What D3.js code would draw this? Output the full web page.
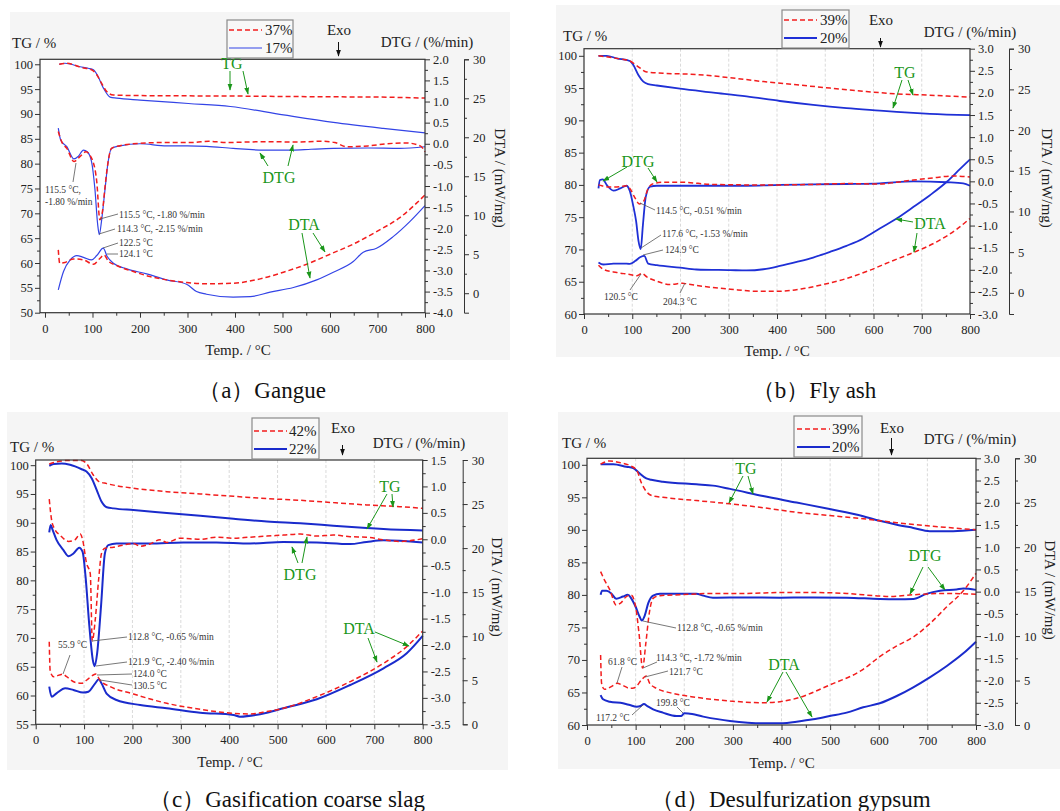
<!DOCTYPE html>
<html>
<head>
<meta charset="utf-8">
<script src="https://cdn.jsdelivr.net/npm/d3@7"></script>
<style>
  body { margin: 0; background: #ffffff; }
  svg { display: block; }
</style>
</head>
<body>
<svg id="fig" width="1060" height="811"></svg>
<script>
// ---------- Data: [temperature °C, value] ----------
// (a) Gangue
const gangueTG37 = [[30,100],[45,100.2],[60,99.9],[74,99.4],[98,98.9],[109,97.9],[119,96.2],[130,94.5],[144,93.8],[200,93.7],[400,93.6],[600,93.45],[700,93.4],[800,93.2]];
const gangueTG17 = [[30,100],[42,100.2],[74,99.5],[91,99.2],[102,98.9],[112,97.5],[123,95.2],[137,93.4],[151,93.2],[200,92.8],[302,92.1],[390,91.5],[502,89.8],[607,88.3],[712,87.1],[800,86.2]];
const gangueDTG37 = [[28,0.29],[35,0.05],[46,-0.11],[61,-0.42],[74,-0.3],[86,-0.19],[98,-0.34],[109,-0.9],[115.5,-1.80],[121,-1.6],[126,-1.06],[133,-0.42],[140,-0.11],[158,-0.045],[200,0.01],[250,0.03],[312,0.03],[345,0.06],[380,0.03],[420,0.04],[470,0.05],[530,0.04],[580,0.06],[610,0.03],[635,-0.07],[680,-0.05],[720,0.0],[760,0.02],[790,-0.05],[800,-0.19]];
const gangueDTG17 = [[28,0.37],[33,0.09],[46,-0.07],[61,-0.36],[70,-0.3],[81,-0.15],[89,-0.19],[98,-0.42],[105,-1.06],[111,-1.92],[114.3,-2.15],[119,-1.83],[126,-1.12],[133,-0.42],[140,-0.11],[158,-0.05],[200,0.0],[256,-0.05],[300,-0.05],[340,-0.06],[396,-0.11],[460,-0.15],[520,-0.15],[560,-0.13],[607,-0.11],[680,-0.1],[747,-0.11],[800,-0.07]];
const gangueDTA37 = [[28,5.56],[31,3.85],[42,3.95],[60,4.4],[81,4.27],[102,3.72],[116,4.49],[124.1,4.91],[133,4.15],[151,3.55],[186,2.78],[221,2.14],[256,1.71],[298,1.37],[340,1.2],[396,1.28],[453,1.84],[502,2.69],[551,3.72],[600,5.0],[649,6.3],[698,7.9],[747,9.7],[800,12.6]];
const gangueDTA17 = [[28,0.43],[39,2.78],[53,4.27],[67,4.83],[81,4.6],[98,4.27],[109,4.83],[122.5,5.77],[131,4.7],[144,3.85],[172,3.12],[214,2.48],[256,1.71],[298,1.15],[319,0.21],[340,-0.13],[396,-0.51],[432,-0.45],[474,0.13],[523,0.73],[572,1.71],[607,2.69],[649,4.06],[670,5.26],[698,5.77],[733,7.26],[768,9.19],[800,11.24]];

// (b) Fly ash
const flyashTG39 = [[30,100],[68,99.6],[95,99.2],[109,98.5],[130,97.5],[164,97.3],[233,97.1],[303,96.6],[372,96.0],[441,95.5],[510,95.0],[579,94.5],[648,94.1],[717,93.9],[800,93.6]];
const flyashTG20 = [[30,100],[47,100],[68,99.6],[95,99.2],[102,98.6],[113,97.0],[123,96.0],[133,95.6],[151,95.4],[199,94.9],[268,94.3],[337,93.7],[406,93.0],[475,92.4],[544,91.9],[613,91.5],[648,91.3],[717,91.0],[800,90.8]];
const flyashDTG39 = [[30,-0.08],[37,-0.1],[54,-0.13],[75,-0.12],[88,-0.1],[95,-0.16],[106,-0.38],[114.5,-0.51],[123,-0.46],[133,-0.16],[144,-0.05],[165,-0.02],[199,-0.02],[268,-0.07],[337,-0.08],[406,-0.08],[475,-0.07],[544,-0.05],[613,-0.06],[648,-0.02],[683,0.03],[717,0.07],[765,0.12],[800,0.1]];
const flyashDTG20 = [[30,-0.16],[33,0.03],[39,0.045],[47,-0.08],[61,-0.21],[75,-0.16],[88,-0.1],[95,-0.22],[102,-0.55],[108,-0.9],[113,-1.35],[117.6,-1.53],[122,-1.0],[128,-0.35],[137,-0.12],[151,-0.1],[199,-0.1],[268,-0.1],[337,-0.1],[406,-0.08],[475,-0.07],[544,-0.06],[613,-0.045],[683,0.0],[752,-0.02],[786,-0.045],[800,-0.1]];
const flyashDTA39 = [[30,3.4],[40,2.9],[68,2.5],[95,2.25],[109,2.09],[120.5,2.38],[130,1.97],[151,1.43],[178,1.02],[204.3,1.18],[213,1.1],[254,0.74],[303,0.45],[358,0.2],[406,0.2],[455,0.53],[496,1.02],[544,1.76],[593,2.79],[634,3.81],[683,4.96],[731,6.27],[772,7.79],[800,9.14]];
const flyashDTA20 = [[30,3.73],[40,3.48],[61,3.6],[81,3.6],[95,3.56],[106,3.9],[117,4.4],[124.9,4.55],[133,3.6],[151,3.4],[199,3.1],[233,2.87],[303,2.79],[337,2.75],[372,2.9],[406,3.3],[441,3.8],[475,4.34],[510,5.04],[544,5.78],[579,6.68],[613,7.9],[648,9.14],[683,10.57],[717,12.0],[752,13.65],[779,15.2],[800,16.4]];

// (c) Gasification coarse slag
const slagTG42 = [[28,100.2],[44,100.6],[64,100.8],[95,100.8],[105,100.3],[119,98.3],[130,97.2],[147,96.8],[202,96.0],[271,95.4],[340,95.0],[409,94.6],[478,94.2],[547,93.9],[615,93.5],[684,93.1],[753,92.8],[800,92.5]];
const slagTG22 = [[28,99.9],[37,100.2],[54,100.3],[71,100.06],[95,99.3],[105,98.9],[116,97.7],[126,95.7],[136,93.7],[147,92.7],[161,92.5],[202,92.2],[271,91.7],[340,91.2],[409,90.7],[478,90.2],[547,89.9],[615,89.5],[684,89.1],[719,88.9],[800,88.65]];
const slagDTG42 = [[28,0.76],[33,0.36],[40,0.18],[50,0.08],[68,-0.04],[81,-0.01],[92,0.1],[97,-0.01],[105,-0.45],[112.8,-0.65],[117,-1.92],[123,-1.53],[130,-0.77],[136,-0.27],[143,-0.17],[161,-0.15],[181,-0.11],[202,-0.08],[216,-0.13],[236,-0.09],[257,-0.01],[271,-0.06],[298,0.02],[340,0.0],[374,0.04],[409,0.02],[443,0.04],[478,0.06],[512,0.08],[547,0.1],[581,0.06],[615,0.08],[650,0.05],[684,0.04],[719,-0.01],[753,-0.04],[800,0.01]];
const slagDTG22 = [[28,0.13],[31,0.27],[35,0.18],[43,-0.01],[57,-0.2],[68,-0.32],[78,-0.27],[90,-0.16],[97,-0.24],[103,-0.7],[111,-1.65],[118,-2.28],[121.9,-2.40],[127,-2.16],[135,-1.27],[143,-0.27],[150,-0.11],[167,-0.08],[236,-0.08],[305,-0.06],[374,-0.06],[443,-0.08],[512,-0.05],[581,-0.06],[650,-0.09],[684,-0.05],[719,-0.02],[800,-0.06]];
const slagDTA42 = [[28,9.38],[30,6.0],[37,5.4],[55.9,5.7],[64,5.4],[81,4.77],[95,4.65],[105,5.0],[119,5.6],[124.0,5.7],[133,5.0],[154,4.28],[202,3.44],[271,2.38],[340,1.7],[409,1.25],[443,1.17],[478,1.44],[512,1.82],[581,3.14],[650,4.84],[719,6.92],[767,8.82],[800,10.6]];
const slagDTA22 = [[28,4.28],[33,3.14],[43,3.52],[61,4.09],[78,3.9],[98,3.6],[109,3.7],[123,4.65],[130.5,5.1],[136,4.65],[147,3.44],[167,2.76],[216,2.19],[271,1.82],[340,1.32],[409,1.06],[422,0.87],[478,1.32],[512,1.82],[581,2.84],[650,4.46],[719,6.36],[767,8.06],[800,10.03]];

// (d) Desulfurization gypsum
const gypsumTG39 = [[28,100.1],[47,100.6],[67,100.35],[88,99.9],[102,99.2],[112,97.2],[122,95.9],[136,95.2],[156,95.0],[225,94.5],[294,94.0],[362,93.4],[431,92.7],[499,92.2],[568,91.7],[637,91.1],[705,90.6],[753,90.3],[800,90.0]];
const gypsumTG20 = [[28,100.1],[54,100.1],[81,99.7],[95,99.5],[108,98.7],[122,97.9],[132,97.7],[156,97.4],[225,97.0],[259,96.8],[294,96.3],[362,95.2],[431,94.2],[499,93.2],[568,92.1],[602,91.4],[637,90.8],[671,90.3],[705,89.8],[753,89.8],[800,90.0]];
const gypsumDTG39 = [[28,0.45],[36,0.26],[47,0.04],[60,-0.3],[69,-0.26],[81,-0.11],[91,-0.08],[100,-0.34],[107,-0.94],[114.3,-1.72],[121,-1.16],[128,-0.49],[136,-0.15],[150,-0.09],[191,-0.07],[259,-0.04],[328,-0.04],[397,-0.02],[465,-0.02],[534,-0.04],[602,-0.1],[623,-0.11],[671,-0.07],[740,-0.04],[800,-0.06]];
const gypsumDTG20 = [[28,-0.07],[31,0.02],[40,0.02],[50,-0.04],[60,-0.16],[74,-0.11],[84,-0.07],[91,-0.15],[100,-0.34],[108,-0.56],[112.8,-0.65],[119,-0.53],[126,-0.26],[136,-0.09],[150,-0.05],[225,-0.05],[239,-0.09],[259,-0.135],[328,-0.13],[397,-0.135],[465,-0.13],[534,-0.135],[602,-0.165],[637,-0.17],[671,-0.165],[698,-0.05],[726,0.02],[760,0.05],[774,0.07],[800,0.04]];
const gypsumDTA39 = [[28,7.87],[30,4.69],[36,4.01],[50,4.31],[61.8,4.69],[74,4.45],[88,4.12],[98,4.2],[112,5.06],[121.7,5.51],[129,4.69],[143,4.12],[170,3.64],[225,3.11],[294,2.7],[362,2.51],[397,2.62],[431,3.0],[499,4.5],[568,6.26],[602,7.69],[637,8.89],[671,9.9],[705,11.4],[740,13.3],[774,15.1],[800,17.06]];
const gypsumDTA20 = [[28,3.37],[33,2.89],[47,2.62],[74,2.44],[88,2.25],[102,2.06],[110,2.13],[117.2,2.36],[124,2.13],[136,1.76],[156,1.39],[184,1.01],[194,1.01],[199.8,1.31],[208,1.3],[239,0.94],[294,0.45],[362,0.19],[403,0.19],[431,0.37],[465,0.64],[499,1.01],[534,1.39],[568,1.99],[602,2.44],[637,3.26],[671,4.24],[705,5.36],[740,6.64],[774,8.06],[800,9.37]];

// Axis ticks
const tempTicks = [0,100,200,300,400,500,600,700,800];
const dtaTicks = [0,5,10,15,20,25,30];
const tgTicksA = [50,55,60,65,70,75,80,85,90,95,100];
const tgTicksB = [60,65,70,75,80,85,90,95,100];
const tgTicksC = [55,60,65,70,75,80,85,90,95,100];
const tgTicksD = [60,65,70,75,80,85,90,95,100];
const dtgTicksA = [-4,-3.5,-3,-2.5,-2,-1.5,-1,-0.5,0,0.5,1,1.5,2];
const dtgTicksB = [-3,-2.5,-2,-1.5,-1,-0.5,0,0.5,1,1.5,2,2.5,3];
const dtgTicksC = [-3.5,-3,-2.5,-2,-1.5,-1,-0.5,0,0.5,1,1.5];
const dtgTicksD = [-3,-2.5,-2,-1.5,-1,-0.5,0,0.5,1,1.5,2,2.5,3];

// Legend labels (red dashed, blue solid) and captions
const legendA = ["37%","17%"], legendB = ["39%","20%"], legendC = ["42%","22%"], legendD = ["39%","20%"];
const captions = ["（a）Gangue","（b）Fly ash","（c）Gasification coarse slag","（d）Desulfurization gypsum"];

// ---------- Styles ----------
const RED = "#f21d1d", GREEN = "#1a961a", INK = "#222";
const SERIF = "'Liberation Serif', 'Times New Roman', 'DejaVu Serif', serif";

// ---------- Panel layouts ----------
const panels = [
  { bg:[10,12,500,348], frame:{l:40,r:425,t:59.3,b:312.7}, xDom:[-10.5,800], tgDom:[50,101], dtgDom:[-4,2], dtaDom:[-2.5,30],
    dtaX:464, grid:false, blueW:1.2, blue:"#3344e6",
    tg:[gangueTG37,gangueTG17], dtg:[gangueDTG37,gangueDTG17], dta:[gangueDTA37,gangueDTA17],
    tgTicks:tgTicksA, dtgTicks:dtgTicksA, legend:legendA, caption:captions[0],
    legendBox:[227,20,66,38], legY:[30,48], legX:[229,262,265],
    exo:[339,30,42,56], tgTitle:[12,43], dtgTitle:[427,42], dtaTitle:[500,178], xTitle:[238,350], cap:[262,390],
    notes:[
      {t:"115.5 °C,", x:45, y:190}, {t:"-1.80 %/min", x:45, y:202, l:[73,182,76,163]},
      {t:"115.5 °C, -1.80 %/min", x:119, y:215, l:[100,219,118,214]},
      {t:"114.3 °C, -2.15 %/min", x:117, y:229, l:[99,234,115,229]},
      {t:"122.5 °C", x:119, y:243, l:[103,248,118,243]},
      {t:"124.1 °C", x:119, y:254, l:[107,254,118,254]}
    ],
    green:[
      {t:"TG", x:232, y:63, a:[[230,71,230,90],[243,71,248,94]]},
      {t:"DTG", x:279, y:177, a:[[268,166,260,153],[288,166,293,145]]},
      {t:"DTA", x:304, y:224, a:[[302,233,310,278],[313,233,325,252]]}
    ]},
  { bg:[556,5,504,352], frame:{l:584,r:970,t:48.7,b:314}, xDom:[0,800], tgDom:[60,101.1], dtgDom:[-3,3], dtaDom:[-2.6,30],
    dtaX:1009, grid:true, blueW:1.8, blue:"#1f30d6",
    tg:[flyashTG39,flyashTG20], dtg:[flyashDTG39,flyashDTG20], dta:[flyashDTA39,flyashDTA20],
    tgTicks:tgTicksB, dtgTicks:dtgTicksB, legend:legendB, caption:captions[1],
    legendBox:[782,10,67,38], legY:[20,38], legX:[784,817,820],
    exo:[881,20,38,47], tgTitle:[563,36], dtgTitle:[970,32], dtaTitle:[1047,178], xTitle:[777,351], cap:[814,390],
    notes:[
      {t:"114.5 °C, -0.51 %/min", x:656, y:211, l:[640,203,655,210]},
      {t:"117.6 °C, -1.53 %/min", x:662, y:234, l:[641,248,661,235]},
      {t:"124.9 °C", x:665, y:250, l:[643,255,663,250]},
      {t:"120.5 °C", x:604, y:297, l:[630,290,641,274]},
      {t:"204.3 °C", x:663, y:302, l:[680,293,685,283]}
    ],
    green:[
      {t:"TG", x:905, y:72, a:[[902,80,893,108],[908,80,913,95]]},
      {t:"DTG", x:638, y:161, a:[[627,167,603,181],[648,168,657,182]]},
      {t:"DTA", x:930, y:223, a:[[913,222,896,219],[917,233,914,252]]}
    ]},
  { bg:[7,412,501,358], frame:{l:35.7,r:422.7,t:460,b:724.3}, xDom:[0,800], tgDom:[55,100.9], dtgDom:[-3.5,1.5], dtaDom:[0,30],
    dtaX:462.7, grid:true, blueW:2, blue:"#1a2bcc",
    tg:[slagTG42,slagTG22], dtg:[slagDTG42,slagDTG22], dta:[slagDTA42,slagDTA22],
    tgTicks:tgTicksC, dtgTicks:dtgTicksC, legend:legendC, caption:captions[2],
    legendBox:[252,418,67,41], legY:[431,449], legX:[254,287,289],
    exo:[343,428,445,455], tgTitle:[10,447], dtgTitle:[419,443], dtaTitle:[497,587], xTitle:[230,762], cap:[287,799],
    notes:[
      {t:"55.9 °C", x:58, y:645, l:[70,655,63,674]},
      {t:"112.8 °C, -0.65 %/min", x:128, y:637, l:[92,641,127,637]},
      {t:"121.9 °C, -2.40 %/min", x:128, y:662, l:[96,666,127,662]},
      {t:"124.0 °C", x:133, y:674, l:[97,675,132,674]},
      {t:"130.5 °C", x:133, y:686, l:[100,680,132,685]}
    ],
    green:[
      {t:"TG", x:390, y:486, a:[[387,494,367,529],[392,494,393,507]]},
      {t:"DTG", x:300, y:574, a:[[298,563,292,547],[302,563,307,537]]},
      {t:"DTA", x:359, y:628, a:[[368,638,377,662],[375,632,409,646]]}
    ]},
  { bg:[558,412,502,357], frame:{l:587,r:976,t:458.3,b:725}, xDom:[0,800], tgDom:[60,101], dtgDom:[-3,3], dtaDom:[0,30],
    dtaX:1015, grid:true, blueW:2, blue:"#1a2bcc",
    tg:[gypsumTG39,gypsumTG20], dtg:[gypsumDTG39,gypsumDTG20], dta:[gypsumDTA39,gypsumDTA20],
    tgTicks:tgTicksD, dtgTicks:dtgTicksD, legend:legendD, caption:captions[3],
    legendBox:[794,416,68,41], legY:[429,447], legX:[797,830,832],
    exo:[892,428,438,455], tgTitle:[562,443], dtgTitle:[970,439], dtaTitle:[1050,590], xTitle:[782,763], cap:[791,799],
    notes:[
      {t:"112.8 °C, -0.65 %/min", x:677, y:628, l:[643,621,676,628]},
      {t:"114.3 °C, -1.72 %/min", x:656, y:658, l:[643,668,657,662]},
      {t:"121.7 °C", x:669, y:672, l:[645,677,668,671]},
      {t:"61.8 °C", x:608, y:662, l:[622,667,617,683]},
      {t:"199.8 °C", x:656, y:703, l:[677,707,683,713]},
      {t:"117.2 °C", x:596, y:718, l:[632,715,643,705]}
    ],
    green:[
      {t:"TG", x:746, y:468, a:[[743,476,729,503],[748,476,753,494]]},
      {t:"DTG", x:925, y:555, a:[[923,567,910,594],[928,567,945,590]]},
      {t:"DTA", x:784, y:664, a:[[783,672,767,702],[786,672,812,717]]}
    ]}
];

const svg = d3.select("#fig").attr("font-family", SERIF);
const defs = svg.append("defs");
function marker(id, color, size) {
  defs.append("marker").attr("id", id).attr("viewBox", "0 0 10 10")
    .attr("refX", 9).attr("refY", 5).attr("markerWidth", size).attr("markerHeight", size)
    .attr("markerUnits", "userSpaceOnUse").attr("orient", "auto")
    .append("path").attr("d", "M0,1.5 L10,5 L0,8.5 Z").attr("fill", color);
}
marker("garrow", GREEN, 7);
marker("karrow", "#111", 7);

const fmt1 = d => d.toFixed(1);
const range = (a, b, s) => d3.range(a, b + s / 2, s);

function styleAxis(g, size) {
  g.attr("font-family", null).attr("font-size", null);
  g.selectAll("text").attr("font-size", size).attr("fill", INK);
  g.selectAll("line").attr("stroke", "#333");
  g.selectAll("path.domain").attr("stroke", "#333");
}

panels.forEach(p => {
  const f = p.frame;
  const g = svg.append("g");
  g.append("rect").attr("x", p.bg[0]).attr("y", p.bg[1]).attr("width", p.bg[2]).attr("height", p.bg[3]).attr("fill", "#f5f5f5");

  const x = d3.scaleLinear().domain(p.xDom).range([f.l, f.r]);
  const yTG = d3.scaleLinear().domain(p.tgDom).range([f.b, f.t]);
  const yDTG = d3.scaleLinear().domain(p.dtgDom).range([f.b, f.t]);
  const yDTA = d3.scaleLinear().domain(p.dtaDom).range([f.b, f.t]);

  // plot area
  g.append("rect").attr("x", f.l).attr("y", f.t).attr("width", f.r - f.l).attr("height", f.b - f.t).attr("fill", "#ffffff");

  if (p.grid) {
    g.append("g").selectAll("line").data(tempTicks.filter(t => t > 0 && t < 800)).join("line")
      .attr("x1", d => x(d)).attr("x2", d => x(d)).attr("y1", f.t).attr("y2", f.b)
      .attr("stroke", "#d0d0d0").attr("stroke-width", 0.8).attr("stroke-dasharray", "3,2");
  }

  // axes: temperature
  const gxMinor = g.append("g").attr("transform", `translate(0,${f.b})`)
    .call(d3.axisBottom(x).tickValues(range(50, 750, 100)).tickSize(3).tickSizeOuter(0).tickFormat(""));
  gxMinor.select(".domain").remove(); styleAxis(gxMinor, 12.5);
  const gx = g.append("g").attr("transform", `translate(0,${f.b})`)
    .call(d3.axisBottom(x).tickValues(tempTicks).tickSize(5).tickSizeOuter(0).tickPadding(6).tickFormat(d3.format("d")));
  gx.select(".domain").remove(); styleAxis(gx, 12.5);

  // TG (left)
  const tg0 = p.tgTicks[0], tg1 = p.tgTicks[p.tgTicks.length - 1];
  const gyMinor = g.append("g").attr("transform", `translate(${f.l},0)`)
    .call(d3.axisLeft(yTG).tickValues(range(tg0 + 2.5, tg1 - 2.5, 5)).tickSize(3).tickSizeOuter(0).tickFormat(""));
  gyMinor.select(".domain").remove(); styleAxis(gyMinor, 12.5);
  const gy = g.append("g").attr("transform", `translate(${f.l},0)`)
    .call(d3.axisLeft(yTG).tickValues(p.tgTicks).tickSize(5).tickSizeOuter(0).tickPadding(2).tickFormat(d3.format("d")));
  gy.select(".domain").remove(); styleAxis(gy, 12.5);

  // DTG (inner right)
  const d0 = p.dtgTicks[0], d1 = p.dtgTicks[p.dtgTicks.length - 1];
  const gdMinor = g.append("g").attr("transform", `translate(${f.r},0)`)
    .call(d3.axisRight(yDTG).tickValues(range(d0 + 0.25, d1 - 0.25, 0.5)).tickSize(3).tickSizeOuter(0).tickFormat(""));
  gdMinor.select(".domain").remove(); styleAxis(gdMinor, 12.5);
  const gd = g.append("g").attr("transform", `translate(${f.r},0)`)
    .call(d3.axisRight(yDTG).tickValues(p.dtgTicks).tickSize(5).tickSizeOuter(0).tickPadding(3).tickFormat(fmt1));
  gd.select(".domain").remove(); styleAxis(gd, 12.5);

  // DTA (outer right)
  const gaMinor = g.append("g").attr("transform", `translate(${p.dtaX},0)`)
    .call(d3.axisRight(yDTA).tickValues(range(2.5, 27.5, 5)).tickSize(3).tickSizeOuter(0).tickFormat(""));
  gaMinor.select(".domain").remove(); styleAxis(gaMinor, 12.5);
  const ga = g.append("g").attr("transform", `translate(${p.dtaX},0)`)
    .call(d3.axisRight(yDTA).tickValues(dtaTicks).tickSize(5).tickSizeOuter(5).tickPadding(4).tickFormat(d3.format("d")));
  styleAxis(ga, 12.5);

  // curves
  const mk = y => d3.line().x(d => x(d[0])).y(d => y(d[1])).curve(d3.curveMonotoneX);
  const sets = [[p.tg, yTG], [p.dtg, yDTG], [p.dta, yDTA]];
  sets.forEach(([pair, y]) => {
    g.append("path").datum(pair[1]).attr("d", mk(y)).attr("fill", "none")
      .attr("stroke", p.blue).attr("stroke-width", p.blueW).attr("stroke-linejoin", "round");
  });
  sets.forEach(([pair, y]) => {
    g.append("path").datum(pair[0]).attr("d", mk(y)).attr("fill", "none")
      .attr("stroke", RED).attr("stroke-width", 1.5).attr("stroke-dasharray", "5,3");
  });

  // frame
  g.append("rect").attr("x", f.l).attr("y", f.t).attr("width", f.r - f.l).attr("height", f.b - f.t)
    .attr("fill", "none").attr("stroke", "#333").attr("stroke-width", 1.2);

  // value notes
  p.notes.forEach(n => {
    if (n.l) g.append("line").attr("x1", n.l[0]).attr("y1", n.l[1]).attr("x2", n.l[2]).attr("y2", n.l[3])
      .attr("stroke", "#555").attr("stroke-width", 0.8);
    g.append("text").attr("x", n.x).attr("y", n.y).attr("dominant-baseline", "central")
      .attr("font-size", 9.5).attr("fill", "#333").text(n.t);
  });

  // green curve labels
  p.green.forEach(n => {
    g.append("text").attr("x", n.x).attr("y", n.y).attr("text-anchor", "middle").attr("dominant-baseline", "central")
      .attr("font-size", 16).attr("fill", GREEN).text(n.t);
    n.a.forEach(a => g.append("line").attr("x1", a[0]).attr("y1", a[1]).attr("x2", a[2]).attr("y2", a[3])
      .attr("stroke", GREEN).attr("stroke-width", 1).attr("marker-end", "url(#garrow)"));
  });

  // legend
  const lb = p.legendBox;
  g.append("rect").attr("x", lb[0]).attr("y", lb[1]).attr("width", lb[2]).attr("height", lb[3])
    .attr("fill", "#f8f8f8").attr("stroke", "#8a8a8a").attr("stroke-width", 1.2);
  [[RED, "5,3", 1.5], [p.blue, null, p.blueW]].forEach((s, i) => {
    g.append("line").attr("x1", p.legX[0]).attr("x2", p.legX[1]).attr("y1", p.legY[i]).attr("y2", p.legY[i])
      .attr("stroke", s[0]).attr("stroke-width", s[2]).attr("stroke-dasharray", s[1]);
    g.append("text").attr("x", p.legX[2]).attr("y", p.legY[i]).attr("dominant-baseline", "central")
      .attr("font-size", 15).attr("fill", INK).text(p.legend[i]);
  });

  // exo marker
  g.append("text").attr("x", p.exo[0]).attr("y", p.exo[1]).attr("text-anchor", "middle").attr("dominant-baseline", "central")
    .attr("font-size", 15).attr("fill", INK).text("Exo");
  g.append("line").attr("x1", p.exo[0] - 0.5).attr("x2", p.exo[0] - 0.5).attr("y1", p.exo[2]).attr("y2", p.exo[3])
    .attr("stroke", "#111").attr("stroke-width", 1).attr("marker-end", "url(#karrow)");

  // axis titles
  g.append("text").attr("x", p.tgTitle[0]).attr("y", p.tgTitle[1]).attr("dominant-baseline", "central")
    .attr("font-size", 15).attr("fill", INK).text("TG / %");
  g.append("text").attr("x", p.dtgTitle[0]).attr("y", p.dtgTitle[1]).attr("text-anchor", "middle").attr("dominant-baseline", "central")
    .attr("font-size", 15).attr("fill", INK).text("DTG / (%/min)");
  g.append("text").attr("transform", `translate(${p.dtaTitle[0]},${p.dtaTitle[1]}) rotate(90)`)
    .attr("text-anchor", "middle").attr("dominant-baseline", "central")
    .attr("font-size", 15).attr("fill", INK).text("DTA / (mW/mg)");
  g.append("text").attr("x", p.xTitle[0]).attr("y", p.xTitle[1]).attr("text-anchor", "middle").attr("dominant-baseline", "central")
    .attr("font-size", 15).attr("fill", INK).text("Temp. / °C");

  // caption
  svg.append("text").attr("x", p.cap[0]).attr("y", p.cap[1]).attr("text-anchor", "middle").attr("dominant-baseline", "central")
    .attr("font-size", 23).attr("fill", "#111").text(p.caption);
});

// every label in the serif face
svg.selectAll("text").style("font-family", SERIF);
</script>
</body>
</html>
